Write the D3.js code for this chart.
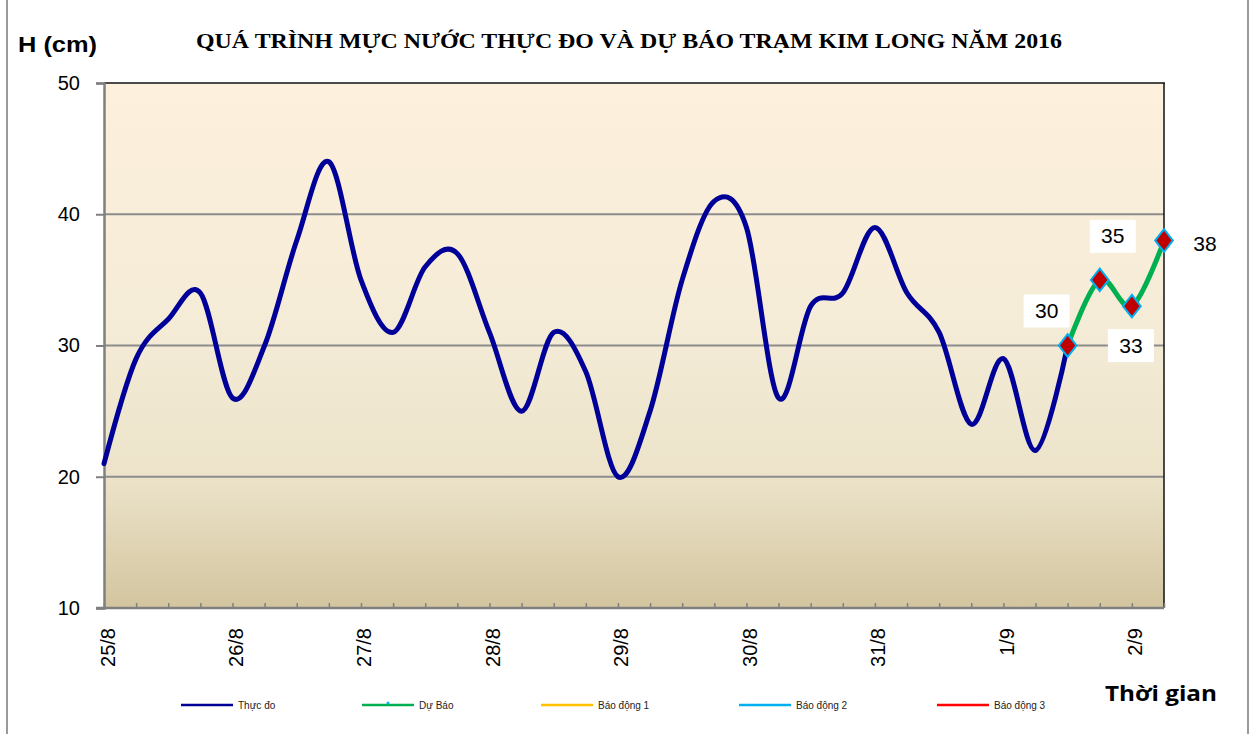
<!DOCTYPE html>
<html>
<head>
<meta charset="utf-8">
<script src="https://cdn.jsdelivr.net/npm/d3@7"></script>
<style>
  html, body { margin: 0; padding: 0; background: #fff; }
  svg { display: block; }
</style>
</head>
<body>
<svg id="chart" width="1254" height="734"></svg>
<script>
// ---- data ----
const title = "QUÁ TRÌNH MỰC NƯỚC THỰC ĐO VÀ DỰ BÁO TRẠM KIM LONG NĂM 2016";
const dayLabels = ["25/8", "26/8", "27/8", "28/8", "29/8", "30/8", "31/8", "1/9", "2/9"];
const stepsPerDay = 4; // observations every 6 hours
const observed = [21, 29, 32, 34, 26, 30, 38, 44, 35, 31, 36, 37, 31, 25, 31, 28,
                  20, 25, 35, 41, 39, 26, 33, 34, 39, 34, 31, 24, 29, 22, 30];
const forecastStart = 30;
const forecast = [30, 35, 33, 38];
const yTicks = [10, 20, 30, 40, 50];
const seriesNames = ["Thực đo", "Dự Báo", "Báo động 1", "Báo động 2", "Báo động 3"];
const seriesColors = ["#000099", "#00B050", "#FFC000", "#00B0F0", "#FF0000"];

// ---- layout ----
const svg = d3.select("#chart");
const L = 104, R = 1164, T = 83, B = 608;
const nPoints = forecastStart + forecast.length;

const x = d3.scalePoint().domain(d3.range(nPoints)).range([L, R]);
const y = d3.scaleLinear().domain([10, 50]).range([B, T]);

// outer frame
svg.append("line").attr("x1", 7).attr("x2", 7).attr("y1", 0).attr("y2", 734)
  .attr("stroke", "#9a9a9a").attr("stroke-width", 2);
svg.append("line").attr("x1", 1248).attr("x2", 1248).attr("y1", 0).attr("y2", 734)
  .attr("stroke", "#9a9a9a").attr("stroke-width", 2);

// gradient background
const defs = svg.append("defs");
const grad = defs.append("linearGradient").attr("id", "bg")
  .attr("x1", 0).attr("y1", 0).attr("x2", 0).attr("y2", 1);
[[0, "#FDF0DC"], [0.45, "#F5ECD8"], [0.75, "#ECE3CA"], [1, "#D3C59F"]].forEach(([o, c]) =>
  grad.append("stop").attr("offset", o).attr("stop-color", c));
svg.append("rect").attr("x", L).attr("y", T).attr("width", R - L).attr("height", B - T)
  .attr("fill", "url(#bg)");

// gridlines
svg.append("g").selectAll("line").data(yTicks.filter(v => v > 10 && v < 50)).join("line")
  .attr("x1", L).attr("x2", R).attr("y1", d => y(d)).attr("y2", d => y(d))
  .attr("stroke", "#8c8c8c").attr("stroke-width", 2);

// plot border top/right
svg.append("line").attr("x1", L).attr("x2", R + 1).attr("y1", T).attr("y2", T)
  .attr("stroke", "#111").attr("stroke-width", 1.5);
svg.append("line").attr("x1", R).attr("x2", R).attr("y1", T).attr("y2", B)
  .attr("stroke", "#111").attr("stroke-width", 1.5);

// y axis
const yAxis = svg.append("g").attr("transform", `translate(${L},0)`)
  .call(d3.axisLeft(y).tickValues(yTicks).tickSize(8).tickPadding(16).tickFormat(d3.format("d")));
yAxis.select(".domain").attr("stroke", "#808080").attr("stroke-width", 2.5);
yAxis.selectAll(".tick line").attr("stroke", "#808080").attr("stroke-width", 2);
yAxis.selectAll("text").attr("font-family", "Liberation Sans, Arial, sans-serif")
  .attr("font-size", 20).attr("fill", "#000");

// x axis
const xAxis = svg.append("g").attr("transform", `translate(0,${B})`)
  .call(d3.axisBottom(x).tickSize(-5).tickSizeOuter(0)
    .tickFormat(i => i % stepsPerDay === 0 ? dayLabels[i / stepsPerDay] : ""));
xAxis.select(".domain").attr("stroke", "#808080").attr("stroke-width", 2.5)
  .attr("d", `M${L - 8},0H${R}`);
xAxis.selectAll(".tick line").attr("stroke", "#808080").attr("stroke-width", 1.5);
xAxis.selectAll("text")
  .attr("font-family", "Liberation Sans, Arial, sans-serif").attr("font-size", 20).attr("fill", "#000")
  .attr("transform", "rotate(-90)")
  .attr("text-anchor", "end").attr("dominant-baseline", "central")
  .attr("x", -20).attr("y", 3).attr("dy", null);

// lines
const line = d3.line().x(d => x(d[0])).y(d => y(d[1])).curve(d3.curveCardinal.tension(0));
const obsData = observed.map((v, i) => [i, v]);
const fcData = forecast.map((v, i) => [forecastStart + i, v]);

svg.append("path").datum(obsData).attr("d", line).attr("fill", "none")
  .attr("stroke", seriesColors[0]).attr("stroke-width", 5).attr("stroke-linejoin", "round").attr("stroke-linecap", "round");
svg.append("path").datum(fcData).attr("d", line).attr("fill", "none")
  .attr("stroke", seriesColors[1]).attr("stroke-width", 5).attr("stroke-linejoin", "round");

// markers
const diamond = d3.symbol().type(d3.symbolDiamond).size(150);
svg.append("g").selectAll("path").data(fcData).join("path")
  .attr("d", diamond)
  .attr("transform", d => `translate(${x(d[0])},${y(d[1])}) scale(1.35,1)`)
  .attr("fill", "#C00000").attr("stroke", "#00B0F0").attr("stroke-width", 1.6);

// data labels (offsets are layout only)
const labelOffsets = [[-21, -35], [13, -44], [-1, 39], [41, 3]];
const lbl = svg.append("g").selectAll("g").data(fcData).join("g")
  .attr("transform", (d, i) => `translate(${x(d[0]) + labelOffsets[i][0]},${y(d[1]) + labelOffsets[i][1]})`);
lbl.append("rect").attr("x", -23).attr("y", -16).attr("width", 46).attr("height", 33).attr("fill", "#fff");
lbl.append("text").text(d => d[1]).attr("text-anchor", "middle").attr("dominant-baseline", "central")
  .attr("font-family", "Liberation Sans, Arial, sans-serif").attr("font-size", 21).attr("fill", "#000");

// title & axis titles
svg.append("text").text(title).attr("x", 196).attr("y", 48)
  .attr("textLength", 866).attr("lengthAdjust", "spacingAndGlyphs")
  .attr("font-family", "Liberation Serif, Times New Roman, serif").attr("font-weight", "bold")
  .attr("font-size", 20.5).attr("fill", "#000");
svg.append("text").text("H (cm)").attr("x", 18).attr("y", 52)
  .attr("textLength", 79).attr("lengthAdjust", "spacingAndGlyphs")
  .attr("font-family", "Liberation Sans, Arial, sans-serif").attr("font-weight", "bold")
  .attr("font-size", 22).attr("fill", "#000");
svg.append("text").text("Thời gian").attr("x", 1105).attr("y", 701)
  .attr("textLength", 112).attr("lengthAdjust", "spacingAndGlyphs")
  .attr("font-family", "Open Sans, Lato, sans-serif").attr("font-weight", "bold")
  .attr("font-size", 22).attr("fill", "#000");

// legend
const legendX = [181, 362, 541, 739, 937];
const leg = svg.append("g").selectAll("g").data(seriesNames).join("g")
  .attr("transform", (d, i) => `translate(${legendX[i]},705)`);
leg.append("line").attr("x1", 0).attr("x2", 52).attr("y1", 0).attr("y2", 0)
  .attr("stroke", (d, i) => seriesColors[i]).attr("stroke-width", 2.5);
leg.append("text").text(d => d).attr("x", 57).attr("y", 0).attr("dominant-baseline", "central")
  .attr("font-family", "Liberation Sans, Arial, sans-serif").attr("font-size", 10).attr("fill", "#222");
svg.append("circle").attr("cx", legendX[1] + 26).attr("cy", 703).attr("r", 1.5).attr("fill", "#00B0F0");
</script>
</body>
</html>
